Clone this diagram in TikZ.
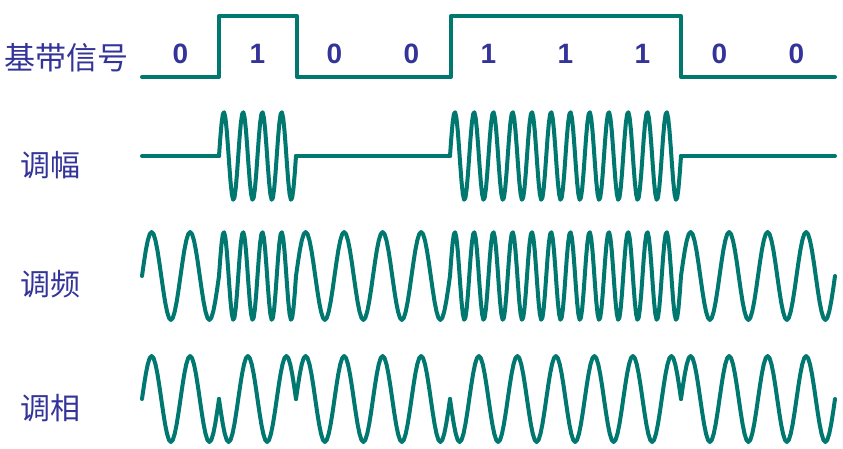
\documentclass[tikz,border=0pt]{standalone}
\usepackage{fontspec}
\setmainfont{Liberation Sans}
\newfontfamily\cjkfont{Noto Sans CJK SC}
\usetikzlibrary{positioning}
\definecolor{wavegreen}{RGB}{0,120,112}
\definecolor{textblue}{RGB}{51,51,153}
\tikzset{
  signal/.style={
    draw=wavegreen,
    line width=4pt,
    line cap=round,
    line join=round
  },
  bitlabel/.style={
    text=textblue,
    inner sep=0pt,
    font=\fontsize{28}{28}\selectfont\bfseries
  },
  rowlabel/.style={
    text=textblue,
    anchor=west,
    inner sep=0pt,
    font=\cjkfont\fontsize{30}{30}\selectfont
  }
}

\begin{document}
\begin{tikzpicture}[x=1pt,y=-1pt]
\useasboundingbox (0,0) rectangle (843,449);

% row labels
\node[rowlabel, font=\cjkfont\fontsize{31}{31}\selectfont] (baseband) at (4,58) {基带信号};
\node[rowlabel] (am) at (20,165) {调幅};
\node[rowlabel] (fm) at (20,284) {调频};
\node[rowlabel] (pm) at (20,408) {调相};

% baseband signal
\draw[signal] (142,77) -- (219,77) -- (219,16) -- (297,16) -- (297,77)
  -- (451,77) -- (451,16) -- (681,16) -- (681,77) -- (835,77);

% one column per bit
\foreach \b [count=\i from 0] in {0,1,0,0,1,1,1,0,0}{
  \pgfmathsetmacro\xo{142+77*\i}
  \node[bitlabel] (bit\i) at (\xo+38.5,54) {\b};
  \ifnum\b=1
    % AM: carrier on
    \draw[signal] plot[domain=0:77,samples=61,variable=\t]
      ({\xo+\t},{156-44*sin(18.7013*\t)});
    % FM: high frequency
    \draw[signal] plot[domain=0:77,samples=61,variable=\t]
      ({\xo+\t},{276-44*sin(18.7013*\t)});
    % PM: inverted phase
    \draw[signal] plot[domain=0:77,samples=41,variable=\t]
      ({\xo+\t},{399+43*sin(9.35065*\t)});
  \else
    % AM: carrier off
    \draw[signal] (\xo,156) -- (\xo+77,156);
    % FM: low frequency
    \draw[signal] plot[domain=0:77,samples=41,variable=\t]
      ({\xo+\t},{276-44*sin(9.35065*\t)});
    % PM: normal phase
    \draw[signal] plot[domain=0:77,samples=41,variable=\t]
      ({\xo+\t},{399-43*sin(9.35065*\t)});
  \fi
}

\end{tikzpicture}
\end{document}
